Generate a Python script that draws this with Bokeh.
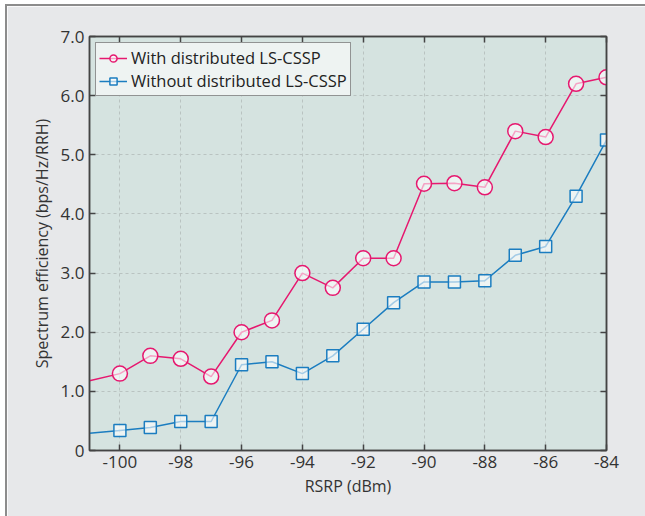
from bokeh.plotting import figure
from bokeh.models import Range1d, FixedTicker, LinearAxis, Legend, LegendItem
from bokeh.embed import file_html
from bokeh.resources import INLINE

# Data
rsrp_line = [-101, -100, -99, -98, -97, -96, -95, -94, -93, -92, -91, -90, -89, -88, -87, -86, -85, -84]
with_cssp = [1.18, 1.30, 1.60, 1.55, 1.25, 2.00, 2.20, 3.00, 2.75, 3.25, 3.25, 4.51, 4.52, 4.45, 5.40, 5.30, 6.20, 6.31]
without_cssp = [0.29, 0.34, 0.39, 0.49, 0.49, 1.45, 1.50, 1.30, 1.60, 2.05, 2.50, 2.85, 2.85, 2.87, 3.30, 3.45, 4.30, 5.25]
x_ticks = [-100, -98, -96, -94, -92, -90, -88, -86, -84]
x_tick_labels = ["-100", "-98", "-96", "-94", "-92", "-90", "-88", "-86", "-84"]
y_ticks = [0, 1, 2, 3, 4, 5, 6, 7]
y_tick_labels = ["0", "1.0", "2.0", "3.0", "4.0", "5.0", "6.0", "7.0"]
series_names = ["With distributed LS-CSSP", "Without distributed LS-CSSP"]

PINK = "#e6186f"
BLUE = "#1b7dc0"
FONT = "Open Sans"
AX = "#444444"

p = figure(
    frame_width=517, frame_height=414,
    min_border_left=82, min_border_right=39, min_border_top=30, min_border_bottom=68,
    x_range=Range1d(-101, -84), y_range=Range1d(0, 7),
    output_backend="svg", toolbar_location=None,
    background_fill_color="#d5e3e0", border_fill_color="#e7e8ea",
    x_axis_label="RSRP (dBm)", y_axis_label="Spectrum efficiency (bps/Hz/RRH)",
)
p.styles = {"border-top": "2px solid #8c8c8c", "border-left": "2px solid #8c8c8c",
            "margin-top": "4px", "margin-left": "5px"}
p.outline_line_color = AX
p.outline_line_width = 1.5

def style_axis(ax, show_labels=True):
    ax.axis_line_color = AX
    ax.axis_line_width = 1.5
    ax.major_tick_in = 6
    ax.major_tick_out = 0
    ax.major_tick_line_color = AX
    ax.major_tick_line_width = 1.5
    ax.minor_tick_line_color = None
    ax.major_label_text_font = FONT
    if show_labels:
        ax.major_label_text_font_size = "17px"
        ax.major_label_text_color = "#333333"
    else:
        ax.major_label_text_font_size = "1px"
        ax.major_label_text_color = None
    ax.axis_label_text_font = FONT
    ax.axis_label_text_font_size = "16px"
    ax.axis_label_text_font_style = "normal"
    ax.axis_label_text_color = "#333333"

xt = FixedTicker(ticks=x_ticks)
yt = FixedTicker(ticks=y_ticks)
p.xaxis.ticker = xt
p.yaxis.ticker = yt
p.xaxis.major_label_overrides = dict(zip(x_ticks, x_tick_labels))
p.yaxis.major_label_overrides = dict(zip(y_ticks, y_tick_labels))
style_axis(p.xaxis[0])
style_axis(p.yaxis[0])
p.xaxis.major_label_standoff = 5
p.yaxis.major_label_standoff = 5
p.xaxis.axis_label_standoff = 4
p.yaxis.axis_label_standoff = 5

top = LinearAxis(ticker=FixedTicker(ticks=x_ticks))
style_axis(top, False)
p.add_layout(top, "above")
right = LinearAxis(ticker=FixedTicker(ticks=y_ticks))
style_axis(right, False)
p.add_layout(right, "right")

p.xgrid.ticker = xt
p.ygrid.ticker = yt
for g in (p.xgrid[0], p.ygrid[0]):
    g.grid_line_color = "#b9c3c1"
    g.grid_line_dash = "3 3"
    g.grid_line_width = 1

l1 = p.line(rsrp_line, with_cssp, line_color=PINK, line_width=1.5)
s1 = p.scatter(rsrp_line[1:], with_cssp[1:], marker="circle", size=15, line_color=PINK,
               line_width=1.5, fill_color="white", fill_alpha=0.6)
l2 = p.line(rsrp_line, without_cssp, line_color=BLUE, line_width=1.5)
s2 = p.scatter(rsrp_line[1:], without_cssp[1:], marker="square", size=12, line_color=BLUE,
               line_width=1.5, fill_color="white", fill_alpha=0.6)

legend = Legend(items=[LegendItem(label=series_names[0], renderers=[l1, s1]),
                       LegendItem(label=series_names[1], renderers=[l2, s2])],
                location="top_left")
legend.margin = 6
legend.padding = 3
legend.spacing = 0
legend.label_text_font = FONT
legend.label_text_font_size = "16.5px"
legend.label_text_color = "#222222"
legend.label_height = 18
legend.label_standoff = 4
legend.glyph_width = 28
legend.glyph_height = 18
legend.border_line_color = "#333333"
legend.border_line_width = 1.5
legend.background_fill_color = "#eef3f2"
legend.background_fill_alpha = 1
p.add_layout(legend)

open("out.html", "w").write(file_html(p, INLINE))
